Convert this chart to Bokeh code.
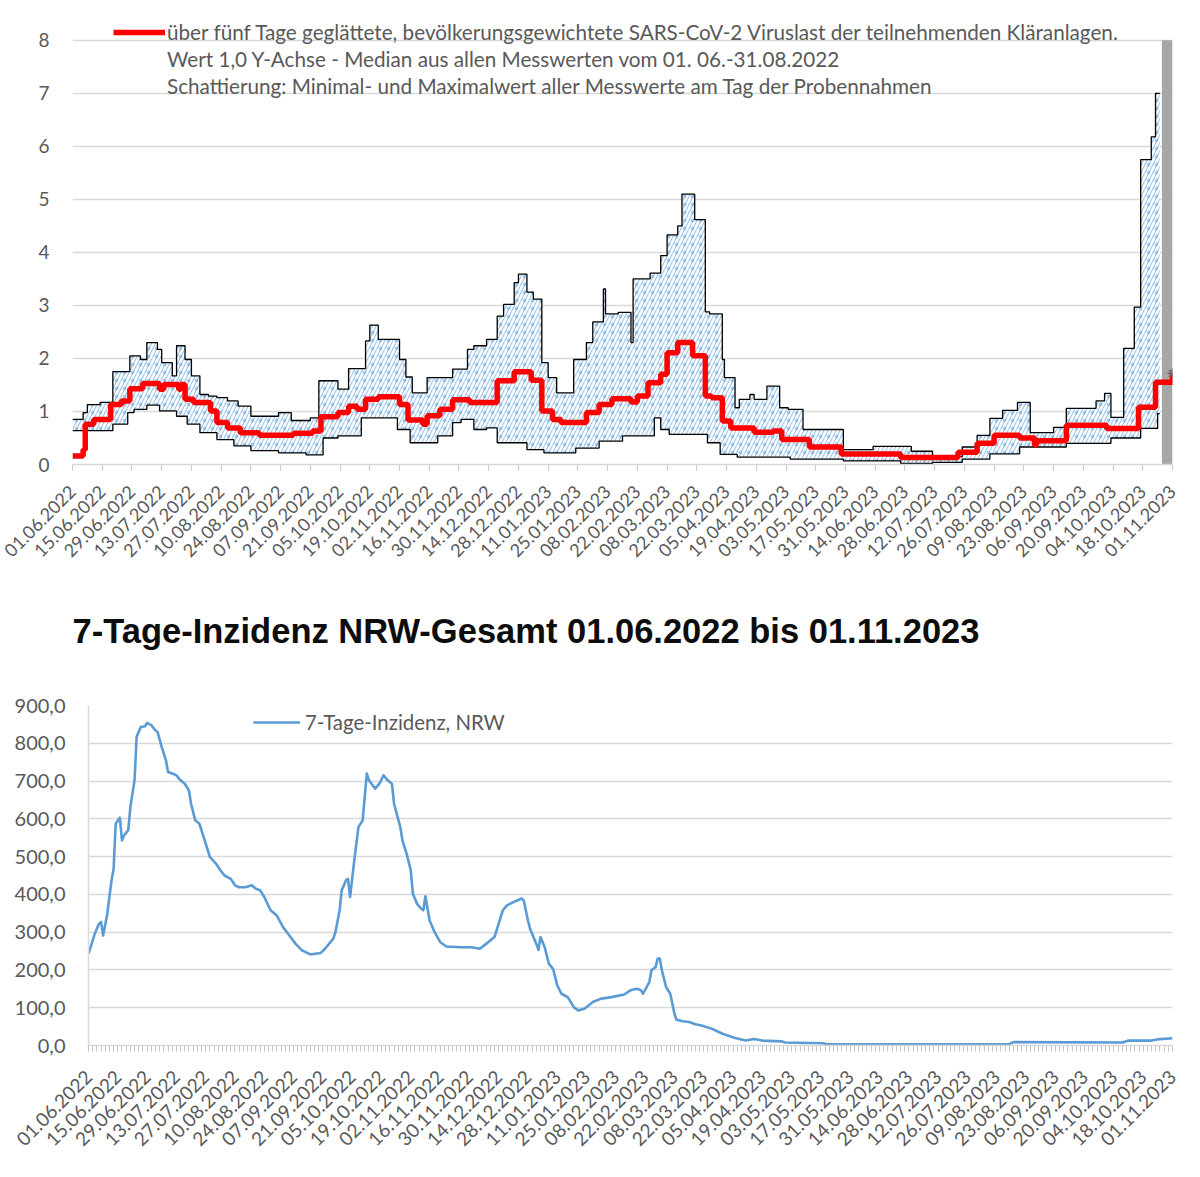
import math
import numpy as np
import pandas as pd
from bokeh.plotting import figure
from bokeh.models import Range1d, FixedTicker, DatetimeTickFormatter, Legend, LegendItem, Title
from bokeh.embed import file_html
from bokeh.resources import INLINE

# ---------------- data ----------------
START = "2022-06-01"
END = "2023-11-01"

tick_labels = [
    "01.06.2022", "15.06.2022", "29.06.2022", "13.07.2022", "27.07.2022", "10.08.2022",
    "24.08.2022", "07.09.2022", "21.09.2022", "05.10.2022", "19.10.2022", "02.11.2022",
    "16.11.2022", "30.11.2022", "14.12.2022", "28.12.2022", "11.01.2023", "25.01.2023",
    "08.02.2023", "22.02.2023", "08.03.2023", "22.03.2023", "05.04.2023", "19.04.2023",
    "03.05.2023", "17.05.2023", "31.05.2023", "14.06.2023", "28.06.2023", "12.07.2023",
    "26.07.2023", "09.08.2023", "23.08.2023", "06.09.2023", "20.09.2023", "04.10.2023",
    "18.10.2023", "01.11.2023",
]

# viral load: change points (days since 01.06.2022) of the step series
upper_day = [0, 5, 7, 13, 19, 27, 32, 35, 40, 42, 47, 49, 53, 56, 60, 64, 68, 73, 78, 84,
             97, 103, 112, 116, 125, 130, 138, 140, 144, 154, 157, 160, 167, 179, 186, 189,
             195, 200, 203, 208, 210, 214, 217, 221, 224, 228, 236, 242, 245, 250, 251, 257,
             263, 264, 272, 277, 280, 285, 287, 293, 298, 300, 306, 307, 312, 314, 319, 321,
             327, 333, 337, 344, 363, 377, 395, 405, 419, 426, 432, 438, 445, 451, 462, 468,
             482, 486, 489, 495, 500, 503, 508, 510, 512]
upper_val = [0.85, 0.98, 1.13, 1.17, 1.75, 2.05, 1.98, 2.30, 2.17, 1.92, 1.67, 2.24, 1.98,
             1.67, 1.32, 1.29, 1.26, 1.20, 1.10, 0.91, 0.98, 0.83, 0.88, 1.58, 1.42, 1.81,
             2.33, 2.63, 2.36, 1.98, 1.65, 1.35, 1.64, 1.80, 2.17, 2.24, 2.36, 2.80, 3.02,
             3.43, 3.59, 3.25, 3.12, 1.92, 1.64, 1.35, 1.98, 2.30, 2.69, 3.31, 2.84, 2.87,
             2.30, 3.50, 3.61, 3.94, 4.33, 4.50, 5.10, 4.62, 2.88, 2.84, 1.98, 1.64, 1.07,
             1.23, 1.32, 1.23, 1.48, 1.07, 1.04, 0.66, 0.28, 0.34, 0.25, 0.15, 0.33, 0.55,
             0.87, 1.02, 1.17, 0.60, 0.70, 1.06, 1.20, 1.34, 0.89, 2.19, 2.97, 5.75, 6.18,
             7.00, 7.00]

lower_day = [0, 19, 26, 29, 35, 41, 49, 54, 60, 68, 76, 84, 97, 110, 118, 125, 136, 153,
             159, 172, 179, 183, 189, 195, 200, 214, 222, 237, 248, 259, 274, 277, 281, 299,
             305, 313, 338, 363, 390, 405, 419, 432, 446, 468, 489, 503, 511, 512]
lower_val = [0.64, 0.76, 0.98, 1.04, 1.12, 1.01, 0.91, 0.76, 0.60, 0.47, 0.35, 0.26, 0.22,
             0.18, 0.50, 0.54, 0.88, 0.66, 0.41, 0.54, 0.79, 0.85, 0.66, 0.69, 0.41, 0.28,
             0.22, 0.31, 0.44, 0.54, 0.88, 0.66, 0.57, 0.41, 0.19, 0.14, 0.10, 0.07, 0.02,
             0.04, 0.10, 0.20, 0.33, 0.40, 0.50, 0.68, 0.96, 0.96]

median_day = [0, 5, 6, 10, 18, 23, 27, 33, 41, 43, 50, 51, 53, 57, 65, 68, 73, 79, 88, 104,
              113, 117, 125, 130, 134, 138, 144, 154, 158, 165, 167, 173, 179, 187, 200, 208,
              216, 221, 226, 230, 242, 248, 254, 263, 266, 271, 277, 280, 285, 292, 298, 301,
              306, 310, 321, 330, 334, 347, 362, 390, 417, 426, 434, 446, 453, 454, 468, 487,
              502, 510, 515, 518]
median_val = [0.16, 0.28, 0.76, 0.85, 1.13, 1.20, 1.43, 1.53, 1.42, 1.51, 1.42, 1.51, 1.23,
              1.17, 1.01, 0.79, 0.69, 0.60, 0.55, 0.59, 0.63, 0.90, 0.98, 1.10, 1.04, 1.23,
              1.28, 1.13, 0.84, 0.76, 0.92, 1.04, 1.22, 1.17, 1.58, 1.75, 1.59, 1.01, 0.85,
              0.79, 0.98, 1.13, 1.24, 1.18, 1.29, 1.54, 1.70, 2.11, 2.30, 2.05, 1.29, 1.26,
              0.82, 0.69, 0.61, 0.63, 0.47, 0.33, 0.20, 0.13, 0.23, 0.40, 0.55, 0.50, 0.37,
              0.45, 0.74, 0.68, 1.08, 1.55, 1.55, 1.72]

gray_from = "2023-10-27"   # grey bar at the right edge

legend_lines = [
    "über fünf Tage geglättete, bevölkerungsgewichtete SARS-CoV-2 Viruslast der teilnehmenden Kläranlagen.",
    "Wert 1,0 Y-Achse - Median aus allen Messwerten vom 01. 06.-31.08.2022",
    "Schattierung: Minimal- und Maximalwert aller Messwerte am Tag der Probennahmen",
]
load_ticks = [0, 1, 2, 3, 4, 5, 6, 7, 8]

# 7-day incidence NRW
inc_day = [0, 1, 3, 5, 6, 7, 9, 11, 12, 13, 15, 16, 17, 19, 20, 22, 23, 25, 27, 28, 30, 32,
           33, 35, 37, 38, 41, 42, 44, 46, 48, 49, 51, 53, 55, 58, 61, 63, 65, 68, 70, 72,
           75, 78, 80, 82, 84, 87, 90, 93, 96, 99, 102, 106, 111, 113, 117, 118, 120, 121,
           123, 124, 125, 127, 129, 131, 133, 134, 137, 139, 141, 143, 145, 146, 149, 150,
           152, 154, 155, 157, 159, 160, 161, 163, 165, 168, 171, 178, 183, 187, 190, 194,
           196, 198, 200, 204, 207, 208, 210, 211, 214, 215, 216, 218, 220, 222, 224, 226,
           229, 232, 234, 237, 241, 245, 250, 256, 259, 262, 264, 265, 268, 269, 271, 272,
           273, 274, 276, 278, 280, 281, 284, 287, 290, 293, 298, 303, 309, 314, 318, 322,
           331, 333, 351, 353, 440, 442, 494, 497, 508, 512, 518]
inc_val = [243, 260, 296, 322, 327, 291, 349, 437, 468, 587, 603, 543, 556, 570, 631, 702,
           817, 843, 845, 854, 848, 834, 830, 790, 755, 724, 718, 715, 702, 693, 675, 640,
           596, 587, 552, 499, 481, 464, 450, 441, 424, 419, 419, 424, 415, 411, 393, 358,
           344, 313, 291, 269, 252, 241, 245, 256, 283, 300, 358, 411, 437, 441, 393, 490,
           578, 596, 720, 702, 680, 693, 715, 702, 693, 640, 578, 543, 508, 464, 402, 375,
           362, 358, 395, 331, 305, 274, 262, 260, 260, 256, 269, 287, 322, 358, 371, 382,
           389, 384, 331, 309, 269, 253, 287, 260, 216, 203, 159, 137, 128, 101, 93, 97, 115,
           124, 128, 135, 146, 150, 146, 137, 168, 199, 208, 230, 230, 199, 155, 137, 84, 68,
           64, 62, 56, 53, 44, 31, 20, 13, 17, 13, 11, 8, 6, 3.5, 3.5, 9, 8, 13, 13, 17, 19]
inc_ticks = [0, 100, 200, 300, 400, 500, 600, 700, 800, 900]
inc_tick_labels = ["0,0", "100,0", "200,0", "300,0", "400,0", "500,0", "600,0", "700,0",
                   "800,0", "900,0"]
inc_label = "7-Tage-Inzidenz, NRW"
title2 = "7-Tage-Inzidenz NRW-Gesamt 01.06.2022 bis 01.11.2023"

# ---------------- helpers ----------------
t0 = pd.Timestamp(START)
t1 = pd.Timestamp(END)


def to_dates(days):
    return t0 + pd.to_timedelta(np.asarray(days, dtype=float), unit="D")


def ffill(days, vals, grid):
    idx = np.searchsorted(np.asarray(days), np.asarray(grid), side="right") - 1
    return np.asarray(vals)[idx]


tick_dates = pd.to_datetime(tick_labels, format="%d.%m.%Y")
ticks_ms = (tick_dates.asi8 // 10**6).tolist()
minor_ms = ((t0 + pd.to_timedelta(np.arange(0, 519, 2), unit="D")).asi8 // 10**6).tolist()

FONT = "Lato"
GREY = "#595959"
GRID = "#d9d9d9"
fmt = DatetimeTickFormatter(days="%d.%m.%Y", months="%d.%m.%Y", years="%d.%m.%Y",
                            hours="%d.%m.%Y", minutes="%d.%m.%Y")


def style_x(p, minor, size, standoff):
    ax = p.xaxis[0]
    ax.ticker = FixedTicker(ticks=ticks_ms, minor_ticks=minor_ms if minor else [])
    ax.formatter = fmt
    ax.major_label_orientation = math.pi / 4
    ax.major_label_text_font = FONT
    ax.major_label_text_font_size = size
    ax.major_label_text_color = GREY
    ax.axis_line_color = GRID
    ax.axis_line_width = 1.5
    ax.major_tick_line_color = "#c8c8c8"
    ax.major_tick_out = 6
    ax.major_tick_in = 0
    ax.minor_tick_line_color = "#c8c8c8" if minor else None
    ax.minor_tick_out = 6
    ax.minor_tick_in = 0
    ax.major_label_standoff = standoff


def style_y(p, line):
    ax = p.yaxis[0]
    ax.axis_line_color = GRID if line else None
    ax.axis_line_width = 1.5
    ax.major_tick_line_color = None
    ax.minor_tick_line_color = None
    ax.major_label_text_font = FONT
    ax.major_label_text_color = GREY
    ax.major_label_standoff = 17
    p.xgrid.visible = False
    p.ygrid.grid_line_color = GRID
    p.ygrid.grid_line_width = 1.5


# ---------------- top chart ----------------
p1 = figure(width=1190, height=590, x_axis_type="datetime", output_backend="svg",
            toolbar_location=None, min_border_left=72, min_border_right=18,
            min_border_top=16, min_border_bottom=126,
            x_range=Range1d(t0, t1), y_range=Range1d(0, 8.45))
p1.outline_line_color = None

band_days = sorted(set(upper_day) | set(lower_day))
hi = ffill(upper_day, upper_val, band_days)
lo = ffill(lower_day, lower_val, band_days)
bx = to_dates(band_days)
p1.varea_step(x=bx, y1=lo, y2=hi, step_mode="after", fill_color="white",
              hatch_pattern="/", hatch_color="#5b9bd5", hatch_scale=8, hatch_weight=1.1,
              hatch_alpha=0.6)
p1.varea_step(x=bx, y1=lo, y2=hi, step_mode="after", fill_alpha=0,
              hatch_pattern=".", hatch_color="#5b9bd5", hatch_scale=8, hatch_weight=1,
              hatch_alpha=0.45)
p1.step(x=to_dates(upper_day), y=upper_val, mode="after", line_color="black", line_width=1.3)
p1.step(x=to_dates(lower_day), y=lower_val, mode="after", line_color="black", line_width=1.3)

p1.quad(left=[pd.Timestamp(gray_from)], right=[t1], bottom=[0], top=[load_ticks[-1]],
        fill_color="#a6a6a6", line_color=None)

red = p1.step(x=to_dates(median_day), y=median_val, mode="after", line_color="#ff0000",
              line_width=5.5)
p1.scatter(x=[t1], y=[median_val[-1]], marker="asterisk", size=10, line_color="#666666",
           line_width=1.5)

dummy = p1.line(x=[], y=[], line_alpha=0)
leg1 = Legend(items=[LegendItem(label=legend_lines[0], renderers=[red]),
                     LegendItem(label=legend_lines[1], renderers=[dummy]),
                     LegendItem(label=legend_lines[2], renderers=[dummy])],
              location=(41, 365), orientation="vertical")
leg1.glyph_width = 52
leg1.glyph_height = 26
leg1.label_height = 26
leg1.spacing = 1
leg1.padding = 0
leg1.margin = 0
leg1.label_standoff = 2
leg1.border_line_alpha = 0
leg1.background_fill_alpha = 0
leg1.label_text_font = FONT
leg1.label_text_font_size = "20.7px"
leg1.label_text_color = GREY
p1.add_layout(leg1)

style_x(p1, minor=False, size="18px", standoff=18)
p1.yaxis.ticker = FixedTicker(ticks=load_ticks)
style_y(p1, line=False)
p1.yaxis.major_label_text_font_size = "19px"

# ---------------- bottom chart ----------------
p2 = figure(width=1190, height=575, x_axis_type="datetime", output_backend="svg",
            toolbar_location=None, min_border_left=88, min_border_right=18,
            min_border_top=115, min_border_bottom=120,
            x_range=Range1d(t0, t1), y_range=Range1d(0, 900))
p2.outline_line_color = None

# heading above the plot, with an empty spacer title between heading and frame
spacer = Title(text=" ", text_font_size="1px", standoff=53)
heading = Title(text=title2, text_font="Liberation Sans", text_font_style="bold",
                text_font_size="34.5px", text_color="#0d0d0d", align="left", offset=-16,
                vertical_align="bottom", standoff=0)
p2.add_layout(spacer, "above")
p2.add_layout(heading, "above")

inc = p2.line(x=to_dates(inc_day), y=inc_val, line_color="#5b9bd5", line_width=2.6,
              line_join="round")
leg2 = Legend(items=[LegendItem(label=inc_label, renderers=[inc])], location=(165, 310))
leg2.glyph_width = 47
leg2.glyph_height = 26
leg2.label_height = 26
leg2.padding = 0
leg2.margin = 0
leg2.label_standoff = 5
leg2.border_line_alpha = 0
leg2.background_fill_alpha = 0
leg2.label_text_font = FONT
leg2.label_text_font_size = "20.4px"
leg2.label_text_color = GREY
p2.add_layout(leg2)

style_x(p2, minor=True, size="19px", standoff=22)
p2.yaxis.ticker = FixedTicker(ticks=inc_ticks)
p2.yaxis.major_label_overrides = {t: s for t, s in zip(inc_ticks, inc_tick_labels)}
style_y(p2, line=True)
p2.yaxis.major_label_text_font_size = "20px"

open("out.html", "w").write(file_html([p1, p2], INLINE))
